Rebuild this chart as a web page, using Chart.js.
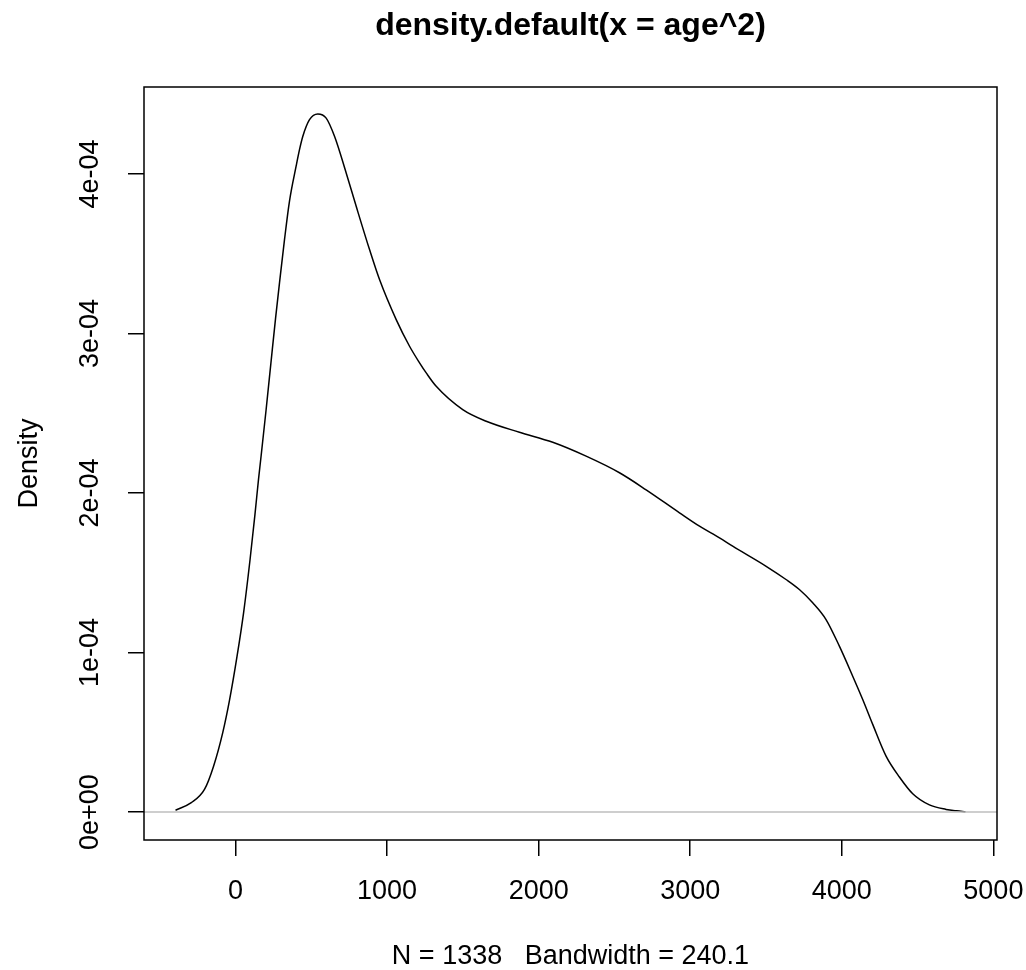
<!DOCTYPE html>
<html lang="en">

<head>
    <meta charset="UTF-8">
    <title>density.default(x = age^2)</title>
    <script src="https://cdn.jsdelivr.net/npm/chart.js"></script>
    <style>
        body {
            margin: 0;
            padding: 0;
            background: #fff;
        }

        #densityChart {
            display: block;
        }
    </style>
</head>

<body>
    <canvas id="densityChart" width="1026" height="970"></canvas>

    <script>
        // values (x = age^2, y = density)
        const ageSq = [-396, -292, -205, -145, -84, -40, 10, 53, 96, 128, 152, 169, 202, 235, 264, 290, 323, 356,
            400, 422, 444, 488, 543, 598, 653, 730, 796, 884, 950, 1060, 1148, 1214, 1258, 1324, 1499, 1654,
            1873, 2093, 2313, 2533, 2709, 2929, 3061, 3193, 3280, 3501, 3632, 3720, 3808, 3896, 3984, 4072,
            4138, 4204, 4292, 4380, 4468, 4578, 4688, 4758, 4816];
        const density = [0.012e-4, 0.059e-4, 0.142e-4, 0.288e-4, 0.50e-4, 0.70e-4, 0.977e-4, 1.249e-4, 1.585e-4,
            1.865e-4, 2.09e-4, 2.235e-4, 2.525e-4, 2.83e-4, 3.095e-4, 3.317e-4, 3.588e-4, 3.83e-4,
            4.05e-4, 4.152e-4, 4.236e-4, 4.34e-4, 4.376e-4, 4.35e-4, 4.236e-4, 4.006e-4, 3.797e-4, 3.526e-4,
            3.338e-4, 3.087e-4, 2.92e-4, 2.816e-4, 2.753e-4, 2.669e-4, 2.523e-4, 2.45e-4,
            2.381e-4, 2.318e-4, 2.231e-4, 2.127e-4, 2.02e-4, 1.876e-4, 1.792e-4, 1.719e-4, 1.667e-4, 1.541e-4,
            1.458e-4, 1.395e-4, 1.312e-4, 1.207e-4, 1.040e-4, 0.852e-4,
            0.706e-4, 0.55e-4, 0.351e-4, 0.22e-4, 0.115e-4, 0.045e-4, 0.017e-4, 0.008e-4, 0.003e-4];

        const xTicks = [0, 1000, 2000, 3000, 4000, 5000];
        const yTicks = [0, 1e-4, 2e-4, 3e-4, 4e-4];
        const yTickLabels = ['0e+00', '1e-04', '2e-04', '3e-04', '4e-04'];
        const xLimits = [-604, 5024];
        const yLimits = [-0.1748e-4, 4.545e-4];

        const FONT = '"Liberation Sans", Arial, sans-serif';

        // box around the plot region, like R's box()
        const boxPlugin = {
            id: 'box',
            afterDraw(chart) {
                const { ctx, chartArea: a } = chart;
                ctx.save();
                ctx.strokeStyle = '#000';
                ctx.lineWidth = 1.5;
                ctx.strokeRect(a.left, a.top, a.right - a.left, a.bottom - a.top);
                ctx.restore();
            }
        };

        // rotated y tick labels (R style, reading upwards)
        const yLabelPlugin = {
            id: 'yLabels',
            afterDraw(chart) {
                const { ctx } = chart;
                const yScale = chart.scales.y;
                ctx.save();
                ctx.fillStyle = '#000';
                ctx.font = '27px ' + FONT;
                ctx.textAlign = 'center';
                ctx.textBaseline = 'middle';
                yTicks.forEach((v, i) => {
                    ctx.save();
                    ctx.translate(91, yScale.getPixelForValue(v));
                    ctx.rotate(-Math.PI / 2);
                    ctx.fillText(yTickLabels[i], 0, 0);
                    ctx.restore();
                });
                ctx.restore();
            }
        };

        const ctx = document.getElementById('densityChart').getContext('2d');

        new Chart(ctx, {
            type: 'line',
            data: {
                datasets: [
                    {
                        // zero line
                        data: xLimits.map(x => ({ x: x, y: 0 })),
                        borderColor: '#bebebe',
                        borderWidth: 1.5,
                        pointRadius: 0
                    },
                    {
                        data: ageSq.map((x, i) => ({ x: x, y: density[i] })),
                        borderColor: '#000',
                        borderWidth: 1.5,
                        pointRadius: 0,
                        cubicInterpolationMode: 'monotone'
                    }
                ]
            },
            options: {
                responsive: false,
                animation: false,
                layout: { padding: { left: 0, top: 0, right: 29, bottom: 0 } },
                plugins: {
                    legend: { display: false },
                    tooltip: { enabled: false },
                    title: {
                        display: true,
                        text: 'density.default(x = age^2)',
                        color: '#000',
                        fullSize: false,
                        font: { family: FONT, size: 32, weight: 'bold', lineHeight: 1.2 },
                        padding: { top: 7, bottom: 41.6 }
                    }
                },
                scales: {
                    x: {
                        type: 'linear',
                        position: 'bottom',
                        min: xLimits[0],
                        max: xLimits[1],
                        afterBuildTicks: axis => { axis.ticks = xTicks.map(v => ({ value: v })); },
                        afterFit: axis => {
                            axis.height = 130;
                            axis.paddingLeft = 0;
                            axis.paddingRight = 0;
                        },
                        border: { display: false },
                        grid: {
                            drawOnChartArea: false,
                            drawTicks: true,
                            tickLength: 16,
                            color: '#000',
                            lineWidth: 1.5
                        },
                        ticks: {
                            color: '#000',
                            font: { family: FONT, size: 27, lineHeight: 1.2 },
                            padding: 19,
                            maxRotation: 0,
                            callback: v => String(v)
                        },
                        title: {
                            display: true,
                            text: 'N = 1338   Bandwidth = 240.1',
                            color: '#000',
                            font: { family: FONT, size: 27, lineHeight: 1 },
                            padding: 0
                        }
                    },
                    y: {
                        type: 'linear',
                        min: yLimits[0],
                        max: yLimits[1],
                        afterBuildTicks: axis => { axis.ticks = yTicks.map(v => ({ value: v })); },
                        afterFit: axis => { axis.width = 144; },
                        border: { display: false },
                        grid: {
                            drawOnChartArea: false,
                            drawTicks: true,
                            tickLength: 16,
                            color: '#000',
                            lineWidth: 1.5
                        },
                        ticks: { display: false },
                        title: {
                            display: true,
                            text: 'Density',
                            color: '#000',
                            font: { family: FONT, size: 27, lineHeight: 1.2 },
                            padding: { top: 13, bottom: 0 }
                        }
                    }
                }
            },
            plugins: [boxPlugin, yLabelPlugin]
        });
    </script>

</body>

</html>
